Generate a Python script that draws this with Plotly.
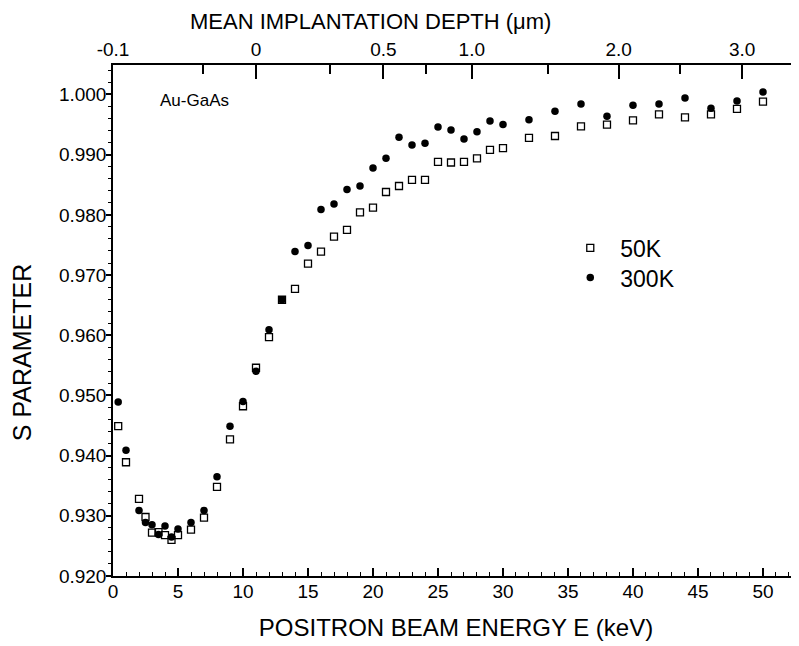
import plotly.graph_objects as go

# Positron beam energy (keV)
energy_50K = [0.4, 1, 2, 2.5, 3, 3.5, 4, 4.5, 5, 6, 7, 8, 9, 10, 11, 12, 13, 14, 15, 16,
              17, 18, 19, 20, 21, 22, 23, 24, 25, 26, 27, 28, 29, 30,
              32, 34, 36, 38, 40, 42, 44, 46, 48, 50]
s_50K = [0.9449, 0.9389, 0.9328, 0.9298, 0.9272, 0.9273, 0.9268, 0.9260, 0.9268, 0.9277,
         0.9297, 0.9348, 0.9427, 0.9482, 0.9546, 0.9597, 0.9659, 0.9677, 0.9719, 0.9739,
         0.9764, 0.9775, 0.9804, 0.9812, 0.9838, 0.9848, 0.9858, 0.9858, 0.9888, 0.9887,
         0.9888, 0.9894, 0.9908, 0.9911,
         0.9928, 0.9931, 0.9947, 0.9950, 0.9957, 0.9967, 0.9962, 0.9967, 0.9976, 0.9988]

energy_300K = energy_50K
s_300K = [0.9489, 0.9409, 0.9309, 0.9289, 0.9285, 0.9269, 0.9283, 0.9265, 0.9278, 0.9289,
          0.9309, 0.9365, 0.9449, 0.9490, 0.9540, 0.9609, 0.9659, 0.9739, 0.9749, 0.9809,
          0.9818, 0.9842, 0.9848, 0.9878, 0.9894, 0.9929, 0.9916, 0.9919, 0.9946, 0.9941,
          0.9926, 0.9938, 0.9956, 0.9950,
          0.9958, 0.9972, 0.9984, 0.9964, 0.9982, 0.9984, 0.9994, 0.9977, 0.9989, 1.0004]

# Top axis: mean implantation depth labels and the beam energies they sit at
depth_labels = ["-0.1", "0", "0.5", "1.0", "2.0", "3.0"]
depth_label_energy = [0.0, 11.0, 20.8, 27.6, 38.9, 48.4]
depth_minor_energy = [6.9, 16.7, 24.1, 33.5, 43.6]

FONT = "Liberation Sans, Arial, Helvetica, sans-serif"
X_RANGE = [0, 52.77]
Y_RANGE = [0.920, 1.0049]

fig = go.Figure()
# The two axis pairs share identical fixed ranges
fig.add_trace(go.Scatter(
    x=energy_50K, y=s_50K, mode="markers", name="50K",
    xaxis="x", yaxis="y",
    marker=dict(symbol="square-open", size=7, color="black", line=dict(width=1.3, color="black")),
    legend="legend", showlegend=True))
fig.add_trace(go.Scatter(
    x=energy_300K, y=s_300K, mode="markers", name="300K",
    xaxis="x2", yaxis="y2",
    marker=dict(symbol="circle", size=7.5, color="black"),
    legend="legend2", showlegend=True))

fig.update_layout(
    width=799, height=646,
    margin=dict(l=105, r=8, t=57, b=78, autoexpand=False),
    paper_bgcolor="white", plot_bgcolor="white",
    showlegend=True,
    font=dict(family=FONT, color="black", size=19),
    xaxis=dict(
        range=X_RANGE, showgrid=False, zeroline=False, automargin=False,
        showline=True, linecolor="black", linewidth=1.5,
        ticks="inside", tickmode="linear", tick0=0, dtick=5, ticklen=8, tickwidth=1.5,
        tickcolor="black", tickfont=dict(size=19), ticklabelstandoff=-3,
        minor=dict(ticks="inside", dtick=1, tick0=0, ticklen=4, tickwidth=1, tickcolor="black"),
        title=dict(text="POSITRON BEAM ENERGY E (keV)", font=dict(size=24), standoff=19),
    ),
    xaxis2=dict(
        overlaying="x", side="top", anchor="y2", range=X_RANGE, automargin=False,
        showgrid=False, zeroline=False,
        showline=True, linecolor="black", linewidth=1.5,
        ticks="inside", tickmode="array", tickvals=depth_label_energy, ticktext=depth_labels,
        ticklen=14, tickwidth=1.5, tickcolor="black", tickfont=dict(size=19),
        minor=dict(ticks="inside", tickmode="array", tickvals=depth_minor_energy,
                   ticklen=9, tickwidth=1.5, tickcolor="black"),
    ),
    yaxis=dict(
        range=Y_RANGE, showgrid=False, zeroline=False, automargin=False,
        showline=True, linecolor="black", linewidth=1.5,
        ticks="outside", tickmode="linear", tick0=0.92, dtick=0.01, tickformat=".3f",
        ticklen=5, tickwidth=1.5, tickcolor="black", tickfont=dict(size=19),
        ticklabelstandoff=-4,
        minor=dict(ticks="outside", dtick=0.002, tick0=0.92, ticklen=3, tickwidth=1, tickcolor="black"),
    ),
    yaxis2=dict(
        overlaying="y", side="right", anchor="x2", range=Y_RANGE, automargin=False,
        showgrid=False, zeroline=False, showline=False, showticklabels=False,
        ticks="inside", tickmode="linear", tick0=0.92, dtick=0.01, ticklen=6,
        tickwidth=1.2, tickcolor="#333",
    ),
    legend=dict(x=0.652, y=0.642, xanchor="left", yanchor="middle", itemwidth=50,
                bgcolor="rgba(0,0,0,0)", font=dict(size=23), itemsizing="trace"),
    legend2=dict(x=0.652, y=0.584, xanchor="left", yanchor="middle", itemwidth=50,
                 bgcolor="rgba(0,0,0,0)", font=dict(size=23), itemsizing="trace"),
    annotations=[
        dict(text="Au-GaAs", xref="paper", yref="paper", x=0.0656, y=0.931,
             xanchor="left", yanchor="middle", showarrow=False, font=dict(size=17)),
        dict(text="MEAN IMPLANTATION DEPTH (\u03bcm)", xref="paper", yref="paper",
             x=(370 - 113) / 686, y=1.0, yshift=44, xanchor="center", yanchor="middle",
             showarrow=False, font=dict(size=22)),
        dict(text="S PARAMETER", xref="paper", yref="paper", textangle=-90,
             x=0, xshift=-91, y=(576 - 353) / 511.3, xanchor="center", yanchor="middle",
             showarrow=False, font=dict(size=25)),
    ],
)

fig.write_html("out.html")
